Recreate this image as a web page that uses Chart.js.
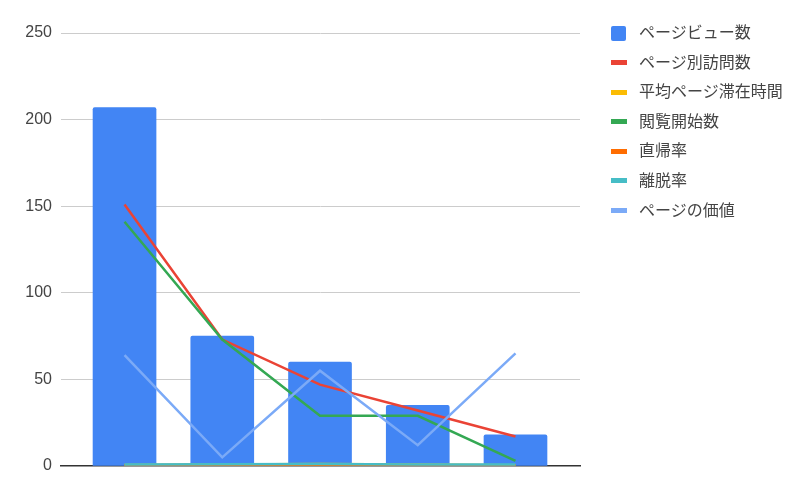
<!DOCTYPE html>
<html>
<head>
<meta charset="utf-8">
<script src="https://cdn.jsdelivr.net/npm/chart.js@4/dist/chart.umd.min.js"></script>
<style>
html,body{margin:0;padding:0;background:#fff;}
#wrap{position:relative;width:809px;height:500px;}
#legend{position:absolute;left:611px;top:18px;font-family:"Liberation Sans","Noto Sans CJK JP",Arial,sans-serif;font-size:16px;color:#444;}
.item{position:relative;height:29.6px;line-height:29.6px;white-space:nowrap;}
.sw{position:absolute;left:0;}
.txt{position:absolute;left:28px;top:0;}
</style>
</head>
<body>
<div id="wrap">
<canvas id="c" width="809" height="500"></canvas>
<div id="legend"></div>
</div>
<script>
const categories = ["1", "2", "3", "4", "5"];
const seriesNames = ["ページビュー数", "ページ別訪問数", "平均ページ滞在時間", "閲覧開始数", "直帰率", "離脱率", "ページの価値"];
const pageViews = [207, 75, 60, 35, 18];
const uniqueViews = [151, 73, 47, 32, 17];
const avgTime = [0.6, 0.9, 1.1, 0.8, 0.5];
const entrances = [141, 73, 29, 29, 3];
const bounceRate = [0.5, 0.6, 0.7, 0.5, 0.4];
const exitRate = [0.8, 1.0, 1.1, 0.9, 0.8];
const pageValue = [64, 5, 55, 12, 65];
const yTicks = [0, 50, 100, 150, 200, 250];
const colors = ["#4285F4", "#EA4335", "#FBBC04", "#34A853", "#FF6D01", "#46BDC6", "#7BAAF7"];

const pts = arr => arr.map((v, i) => ({x: i, y: v}));
const lineSeries = [uniqueViews, avgTime, entrances, bounceRate, exitRate, pageValue];

const datasets = [{
  type: 'bar', label: seriesNames[0], data: pts(pageViews),
  backgroundColor: colors[0], barThickness: 63, borderRadius: 2, order: 10
}];
lineSeries.forEach((arr, k) => {
  datasets.push({
    type: 'line', label: seriesNames[k + 1], data: pts(arr),
    borderColor: colors[k + 1], backgroundColor: colors[k + 1],
    borderWidth: 2.5, pointRadius: 0, tension: 0, fill: false,
    order: 7 - k
  });
});

const font = {family: '"Liberation Sans","Noto Sans CJK JP",Arial,sans-serif', size: 16};

new Chart(document.getElementById('c'), {
  data: {datasets},
  options: {
    responsive: false, animation: false,
    layout: {padding: {top: 33, right: 229, left: 0, bottom: 0}},
    plugins: {legend: {display: false}, tooltip: {enabled: false}},
    scales: {
      x: {
        type: 'linear', min: -0.65, max: 4.66, offset: false,
        ticks: {display: false},
        grid: {display: false, drawTicks: false, offset: false},
        border: {display: true, color: '#333', width: 1.5},
        afterFit: s => { s.height = 34; }
      },
      y: {
        min: 0, max: 250,
        afterBuildTicks: s => { s.ticks = yTicks.map(v => ({value: v})); },
        ticks: {font, color: '#444', padding: 9},
        grid: {color: c => c.tick && c.tick.value === 0 ? 'rgba(0,0,0,0)' : '#cccccc', drawTicks: false, lineWidth: 1},
        border: {display: false},
        afterFit: s => { s.width = 61; }
      }
    }
  }
});

const lg = document.getElementById('legend');
seriesNames.forEach((n, i) => {
  const it = document.createElement('div'); it.className = 'item';
  const sw = document.createElement('div'); sw.className = 'sw';
  if (i === 0) { sw.style.width = '15px'; sw.style.height = '15px'; sw.style.top = '7.5px'; sw.style.borderRadius = '2px'; }
  else { sw.style.width = '16px'; sw.style.height = '5px'; sw.style.top = '12.5px'; }
  sw.style.background = colors[i];
  const t = document.createElement('span'); t.className = 'txt'; t.textContent = n;
  it.appendChild(sw); it.appendChild(t); lg.appendChild(it);
});
</script>
</body>
</html>
